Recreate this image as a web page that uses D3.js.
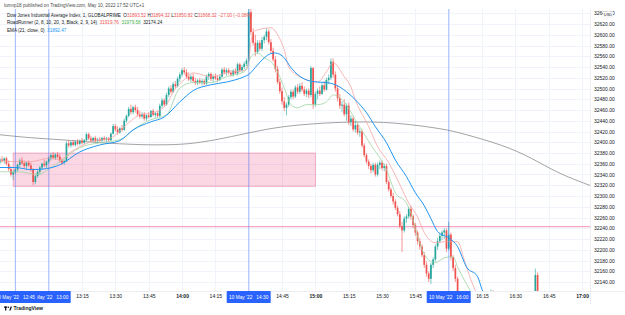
<!DOCTYPE html>
<meta charset="UTF-8">
<style>
    body { margin: 0; background: #fff; }
    svg { display: block; font-family: "Liberation Sans", Arial, sans-serif; }
    .axis path, .axis line { display: none; }
    .axis text { fill: #131722; font-size: 5px; }
    .legend { font-size: 4.6px; fill: #131722; white-space: pre; }
</style>
<body>
<div id="chart"></div>
<script src="https://d3js.org/d3.v7.min.js"></script>
<script>

// 1-minute candles, one row per minute starting at candleStart: [open, high, low, close]
var candleStart = "12:38";
var ohlc = [
    [32362,32372,32358,32368],[32368,32374,32362,32365],[32365,32372,32360,32370],[32370,32373,32357,32360],
    [32360,32366,32346,32350],[32350,32356,32336,32340],[32340,32348,32330,32344],[32344,32352,32340,32349],
    [32349,32360,32346,32358],[32358,32370,32354,32366],[32366,32372,32358,32361],[32361,32366,32352,32356],
    [32356,32364,32350,32362],[32362,32366,32354,32357],[32357,32362,32345,32350],[32350,32352,32320,32326],
    [32326,32340,32322,32337],[32337,32348,32334,32345],[32345,32356,32340,32353],[32353,32362,32348,32360],
    [32360,32368,32354,32357],[32357,32366,32352,32364],[32364,32374,32360,32370],[32370,32380,32366,32376],
    [32376,32382,32368,32371],[32371,32380,32367,32377],[32377,32382,32370,32373],[32373,32378,32362,32366],
    [32366,32370,32358,32362],[32362,32368,32358,32365],[32365,32402,32363,32398],[32398,32404,32390,32394],
    [32394,32402,32390,32400],[32400,32404,32392,32395],[32395,32403,32392,32401],[32401,32406,32394,32397],
    [32397,32405,32394,32403],[32403,32408,32396,32399],[32399,32406,32396,32404],[32404,32418,32402,32415],
    [32415,32418,32404,32407],[32407,32412,32400,32403],[32403,32410,32400,32408],[32408,32412,32400,32402],
    [32402,32408,32398,32405],[32405,32410,32400,32403],[32403,32410,32398,32408],[32408,32412,32402,32405],
    [32405,32410,32400,32407],[32407,32410,32401,32404],[32404,32418,32402,32416],[32416,32434,32414,32430],
    [32430,32434,32420,32424],[32424,32430,32414,32418],[32418,32428,32416,32426],[32426,32432,32420,32423],
    [32423,32444,32421,32440],[32440,32452,32436,32449],[32449,32466,32446,32462],[32462,32470,32452,32456],
    [32456,32468,32452,32465],[32465,32470,32455,32460],[32460,32466,32448,32452],[32452,32458,32444,32448],
    [32448,32456,32444,32452],[32452,32456,32440,32444],[32444,32452,32440,32450],[32450,32456,32444,32447],
    [32447,32460,32445,32458],[32458,32462,32448,32451],[32451,32456,32446,32454],[32454,32458,32446,32449],
    [32449,32472,32447,32468],[32468,32482,32464,32478],[32478,32482,32466,32470],[32470,32492,32468,32488],
    [32488,32504,32484,32500],[32500,32506,32490,32494],[32494,32512,32492,32508],[32508,32514,32500,32504],
    [32504,32522,32502,32518],[32518,32530,32512,32526],[32526,32538,32522,32534],[32534,32540,32526,32530],
    [32530,32536,32518,32522],[32522,32530,32514,32517],[32517,32526,32512,32522],[32522,32528,32510,32514],
    [32514,32520,32506,32510],[32510,32518,32506,32515],[32515,32520,32508,32511],[32511,32518,32506,32514],
    [32514,32518,32506,32509],[32509,32526,32507,32522],[32522,32530,32516,32527],[32527,32530,32514,32518],
    [32518,32526,32512,32523],[32523,32528,32516,32519],[32519,32524,32512,32516],[32516,32526,32514,32522],
    [32522,32538,32520,32535],[32535,32540,32526,32530],[32530,32538,32524,32534],[32534,32538,32526,32529],
    [32529,32534,32522,32526],[32526,32536,32522,32533],[32533,32538,32526,32528],[32528,32548,32524,32545],
    [32545,32548,32530,32534],[32534,32544,32530,32540],[32540,32550,32536,32546],[32546,32556,32542,32552],
    [32552,32650,32548,32642],[32642,32648,32600,32605],[32605,32612,32580,32585],[32585,32600,32560,32568],
    [32568,32590,32564,32585],[32585,32590,32570,32574],[32574,32596,32570,32590],[32590,32600,32584,32596],
    [32596,32612,32590,32606],[32606,32610,32582,32586],[32586,32592,32566,32570],[32570,32576,32550,32554],
    [32554,32560,32530,32536],[32536,32542,32508,32512],[32512,32518,32490,32495],[32495,32502,32470,32476],
    [32476,32484,32458,32464],[32464,32474,32450,32470],[32470,32488,32466,32484],[32484,32498,32480,32494],
    [32494,32498,32480,32485],[32485,32506,32482,32502],[32502,32508,32490,32494],[32494,32510,32490,32505],
    [32505,32512,32494,32498],[32498,32504,32486,32490],[32490,32500,32484,32496],[32496,32500,32482,32488],
    [32488,32542,32484,32538],[32538,32540,32462,32470],[32470,32494,32466,32490],[32490,32500,32480,32496],
    [32496,32504,32486,32490],[32490,32510,32488,32506],[32506,32514,32494,32498],[32498,32520,32496,32516],
    [32516,32526,32508,32520],[32520,32556,32516,32550],[32550,32556,32520,32526],[32526,32532,32494,32500],
    [32500,32506,32476,32482],[32482,32490,32462,32468],[32468,32476,32456,32470],[32470,32480,32448,32452],
    [32452,32472,32440,32468],[32468,32474,32432,32438],[32438,32450,32430,32444],[32444,32448,32420,32424],
    [32424,32440,32418,32432],[32432,32436,32414,32418],[32418,32426,32410,32420],[32420,32424,32390,32394],
    [32394,32398,32372,32376],[32376,32380,32360,32364],[32364,32368,32350,32356],[32356,32360,32342,32348],
    [32348,32362,32344,32358],[32358,32362,32336,32340],[32340,32362,32336,32358],[32358,32366,32350,32362],
    [32362,32366,32348,32352],[32352,32360,32346,32356],[32356,32360,32322,32326],[32326,32330,32308,32312],
    [32312,32316,32296,32300],[32300,32306,32284,32290],[32290,32294,32274,32278],[32278,32282,32262,32266],
    [32266,32272,32240,32244],[32244,32252,32196,32236],[32236,32262,32232,32258],[32258,32266,32250,32262],
    [32262,32280,32258,32276],[32276,32282,32256,32262],[32262,32266,32240,32246],[32246,32250,32226,32232],
    [32232,32236,32210,32216],[32216,32222,32200,32206],[32206,32210,32186,32190],[32190,32196,32166,32172],
    [32172,32178,32150,32156],[32156,32160,32140,32146],[32146,32176,32136,32172],[32172,32186,32166,32182],
    [32182,32210,32178,32206],[32206,32222,32200,32216],[32216,32230,32212,32226],[32226,32236,32218,32232],
    [32232,32240,32220,32236],[32236,32240,32196,32202],[32202,32252,32198,32228],[32228,32232,32180,32186],
    [32186,32190,32160,32166],[32166,32172,32140,32146],[32146,32150,32110,32114],[32114,32118,32080,32086],
    [32086,32096,32052,32060],[32060,32088,32050,32080],[32080,32098,32064,32072],[32072,32090,32060,32084],
    [32084,32100,32070,32078],[32078,32094,32058,32066],[32066,32088,32056,32082],[32082,32110,32076,32104],
    [32104,32118,32090,32096],[32096,32106,32080,32088],[32088,32100,32074,32092],[32092,32108,32084,32100],
    [32100,32112,32090,32094],[32094,32126,32090,32104],[32104,32125,32088,32092]
];

// a few later candles
var lateTimes = ["16:38", "16:39", "16:40"];
var lateOhlc = [[32080,32110,32070,32100],[32100,32165,32096,32153],[32153,32158,32090,32100]];

// indicator lines: [minutes after 12:38, price]
var emaLine = [[0,32353],[7,32353],[14,32349],[21,32351],[27,32358],[36,32382],[45,32395],[54,32403],[60,32423],
    [68,32438],[74,32447],[81,32475],[87,32496],[95,32507],[102,32512],[110,32522],[112,32526],[116,32544],
    [119,32557],[122,32565],[124,32566],[128,32557],[131,32539],[134,32526],[138,32516],[143,32512],[147,32511],
    [151,32507],[156,32494],[160,32479],[165,32455],[169,32429],[174,32399],[178,32367],[183,32336],[187,32306],
    [191,32282],[194,32258],[197,32234],[202,32222],[206,32206],[210,32168],[215,32150],[217,32126],[221,32098]];
var redLine = [[0,32367],[5,32364],[14,32364],[23,32371],[27,32367],[32,32382],[41,32401],[50,32408],[56,32429],
    [63,32451],[69,32455],[75,32470],[78,32494],[83,32516],[87,32529],[95,32522],[102,32529],[111,32535],
    [114,32605],[116,32609],[122,32613],[125,32600],[128,32572],[130,32540],[135,32522],[143,32512],[147,32531],
    [150,32548],[155,32522],[158,32503],[160,32479],[166,32429],[170,32392],[175,32362],[179,32330],[184,32287],
    [188,32261],[191,32232],[196,32213],[200,32215],[206,32215],[209,32181],[212,32144],[216,32107]];
var greenLine = [[0,32345],[9,32345],[17,32340],[23,32353],[27,32364],[36,32390],[45,32399],[54,32405],[62,32429],
    [68,32442],[75,32451],[81,32501],[87,32511],[95,32511],[102,32522],[110,32531],[113,32559],[116,32566],
    [119,32557],[122,32550],[125,32531],[128,32501],[131,32470],[134,32464],[138,32470],[143,32470],[147,32475],
    [150,32488],[155,32475],[160,32442],[167,32395],[174,32349],[178,32306],[183,32287],[186,32256],[188,32224],
    [193,32181],[196,32176],[200,32185],[204,32187],[206,32168],[209,32144],[214,32107]];
var grayLine = [[0,32414],[14,32408],[27,32405],[45,32399],[63,32395],[79,32395],[90,32399],[104,32410],
    [120,32425],[135,32433],[155,32438],[173,32438],[189,32431],[202,32423],[212,32412],[230,32390],
    [243,32362],[252,32341],[266,32319]];

// drawings
var zone = {from: "12:44", to: "15:00", top: 32380, bottom: 32318};
var hLinePrice = 32243;
var markTimes = ["12:45", "13:00", "14:30", "16:00"];

var priceTicks = [32140,32160,32180,32200,32220,32240,32260,32280,32300,32320,32340,32360,32380,
    32400,32420,32440,32460,32480,32500,32520,32540,32560,32580,32600,32620,32640];
var timeTicks = ["12:45","13:00","13:15","13:30","13:45","14:00","14:15","14:30","14:45","15:00",
    "15:15","15:30","15:45","16:00","16:15","16:30","16:45","17:00"];

var headerText = "lumnp18 published on TradingView.com, May 10, 2022 17:52 UTC+1";

// ---------------------------------------------------------------
var W = 625, H = 315;
var pane = {left: 0, right: 590, top: 9, bottom: 291};

var parseTime = d3.timeParse("%Y-%m-%d %H:%M");
function t(s) { return parseTime("2022-05-10 " + s); }
var t0 = t(candleStart);
function tm(m) { return d3.timeMinute.offset(t0, m); }

var x = d3.scaleTime()
    .domain([t("12:38"), t("17:03")])
    .range([-0.2, 588.7]);
var y = d3.scaleLinear().domain([32140, 32620]).range([282, 24]);

var svg = d3.select("#chart").append("svg")
    .attr("width", W).attr("height", H);

svg.append("rect").attr("width", W).attr("height", H).attr("fill", "#fff");

svg.append("clipPath").attr("id", "clip")
    .append("rect")
    .attr("x", pane.left).attr("y", pane.top)
    .attr("width", pane.right - pane.left).attr("height", pane.bottom - pane.top);

var g = svg.append("g").attr("clip-path", "url(#clip)");

// grid
g.selectAll(".hgrid").data(priceTicks).enter().append("line")
    .attr("x1", pane.left).attr("x2", pane.right)
    .attr("y1", function(d) { return Math.round(y(d)) + 0.5; })
    .attr("y2", function(d) { return Math.round(y(d)) + 0.5; })
    .attr("stroke", "#f0f3fa");
g.selectAll(".vgrid").data(timeTicks).enter().append("line")
    .attr("y1", pane.top).attr("y2", pane.bottom)
    .attr("x1", function(d) { return Math.round(x(t(d))) + 0.5; })
    .attr("x2", function(d) { return Math.round(x(t(d))) + 0.5; })
    .attr("stroke", "#f0f3fa");

// zone rectangle
g.append("rect")
    .attr("x", x(t(zone.from))).attr("y", y(zone.top))
    .attr("width", x(t(zone.to)) - x(t(zone.from)))
    .attr("height", y(zone.bottom) - y(zone.top))
    .attr("fill", "rgba(233, 30, 99, 0.18)")
    .attr("stroke", "rgba(233, 30, 99, 0.35)").attr("stroke-width", 0.8);

// horizontal line
g.append("line")
    .attr("x1", pane.left).attr("x2", pane.right)
    .attr("y1", y(hLinePrice)).attr("y2", y(hLinePrice))
    .attr("stroke", "rgba(233, 30, 99, 0.4)").attr("stroke-width", 1.3);

// gray long average
var lineGen = function(curve) {
    return d3.line()
        .x(function(d) { return x(tm(d[0])); })
        .y(function(d) { return y(d[1]); })
        .curve(curve);
};
g.append("path").datum(grayLine)
    .attr("d", lineGen(d3.curveBasis))
    .attr("fill", "none").attr("stroke", "#8c8c8c").attr("stroke-width", 0.8);

// candles
var candles = ohlc.map(function(r, i) { return {t: tm(i), o: r[0], h: r[1], l: r[2], c: r[3]}; })
    .concat(lateOhlc.map(function(r, i) { return {t: t(lateTimes[i]), o: r[0], h: r[1], l: r[2], c: r[3]}; }));

var upCol = "#26a69a", downCol = "#ef5350";
var cg = g.append("g");
cg.selectAll(".wick").data(candles).enter().append("line")
    .attr("x1", function(d) { return x(d.t); })
    .attr("x2", function(d) { return x(d.t); })
    .attr("y1", function(d) { return y(d.h); })
    .attr("y2", function(d) { return y(d.l); })
    .attr("stroke", function(d) { return d.c >= d.o ? upCol : downCol; })
    .attr("stroke-width", 0.6);
cg.selectAll(".body").data(candles).enter().append("rect")
    .attr("x", function(d) { return x(d.t) - 0.85; })
    .attr("width", 1.7)
    .attr("y", function(d) { return y(Math.max(d.o, d.c)); })
    .attr("height", function(d) { return Math.max(0.6, Math.abs(y(d.o) - y(d.c))); })
    .attr("fill", function(d) { return d.c >= d.o ? upCol : downCol; });

// indicator lines
g.append("path").datum(redLine)
    .attr("d", lineGen(d3.curveMonotoneX))
    .attr("fill", "none").attr("stroke", "#f5a3a3").attr("stroke-width", 0.8);
g.append("path").datum(greenLine)
    .attr("d", lineGen(d3.curveMonotoneX))
    .attr("fill", "none").attr("stroke", "#9fd4a2").attr("stroke-width", 0.8);
g.append("path").datum(emaLine)
    .attr("d", lineGen(d3.curveMonotoneX))
    .attr("fill", "none").attr("stroke", "#2196f3").attr("stroke-width", 1);

// vertical marker lines
g.selectAll(".mark").data(markTimes).enter().append("line")
    .attr("x1", function(d) { return x(t(d)); })
    .attr("x2", function(d) { return x(t(d)); })
    .attr("y1", pane.top).attr("y2", pane.bottom)
    .attr("stroke", "rgba(41, 98, 255, 0.45)").attr("stroke-width", 0.9);

// pane borders
svg.append("line").attr("x1", pane.right + 0.5).attr("x2", pane.right + 0.5)
    .attr("y1", pane.top).attr("y2", pane.bottom + 13).attr("stroke", "#e0e3eb").attr("stroke-width", 0.6);
svg.append("line").attr("x1", 0).attr("x2", W)
    .attr("y1", pane.bottom + 0.5).attr("y2", pane.bottom + 0.5).attr("stroke", "#e0e3eb").attr("stroke-width", 0.6);

// price axis
svg.append("g").attr("class", "axis")
    .attr("transform", "translate(" + (pane.right + 3) + ",0)")
    .call(d3.axisRight(y).tickValues(priceTicks).tickSize(0).tickPadding(1).tickFormat(d3.format(".2f")));

// USD badge
svg.append("rect").attr("x", 603).attr("y", 11.5).attr("width", 10).attr("height", 5.5)
    .attr("fill", "#fff").attr("stroke", "#d1d4dc").attr("stroke-width", 0.4).attr("rx", 0.8);
svg.append("text").attr("x", 608).attr("y", 15.6).attr("text-anchor", "middle")
    .attr("font-size", 4).attr("fill", "#131722").text("USD");

// time axis (ticks under the marker labels are covered, so skip their text)
var labelTicks = timeTicks.filter(function(s) { return markTimes.indexOf(s) < 0; });
var tAxis = svg.append("g").attr("class", "axis")
    .attr("transform", "translate(0," + (pane.bottom + 2) + ")")
    .call(d3.axisBottom(x).tickValues(labelTicks.map(t)).tickSize(0).tickPadding(1)
        .tickFormat(d3.timeFormat("%H:%M")));
tAxis.selectAll("text")
    .attr("font-weight", function(d) { return d.getMinutes() === 0 ? "bold" : null; });

// marker labels (drawn right-to-left so the earliest sits on top)
markTimes.slice().reverse().forEach(function(s) {
    var cx = x(t(s));
    var lg = svg.append("g");
    lg.append("rect").attr("x", cx - 22).attr("y", pane.bottom).attr("width", 44).attr("height", 12)
        .attr("fill", "#2962ff").attr("rx", 0.8);
    lg.append("text").attr("x", cx).attr("y", pane.bottom + 7.6).attr("text-anchor", "middle")
        .attr("font-size", 4.8).attr("fill", "#fff").style("white-space", "pre")
        .text("10 May '22   " + s);
});

// header + legend
svg.append("text").attr("class", "legend").attr("x", 4).attr("y", 6.5)
    .style("fill", "#4a4a4a").text(headerText);

var leg1 = svg.append("text").attr("class", "legend").attr("x", 7).attr("y", 16.6);
leg1.append("tspan").text("Dow Jones Industrial Average Index, 1, GLOBALPRIME  ");
[["O", "31893.52"], ["H", "31894.32"], ["L", "31850.82"], ["C", "31868.32"]].forEach(function(p) {
    leg1.append("tspan").text(p[0]);
    leg1.append("tspan").style("fill", downCol).text(p[1] + " ");
});
leg1.append("tspan").style("fill", downCol).text("\u221227.00 (\u22120.08%)");

var leg2 = svg.append("text").attr("class", "legend").attr("x", 7).attr("y", 24.2);
leg2.append("tspan").text("RoadRunner (2, 8, 10, 20, 3, Black, 2, 9, 14)  ");
leg2.append("tspan").style("fill", downCol).text("31919.76  ");
leg2.append("tspan").style("fill", "#4caf50").text("31979.58  ");
leg2.append("tspan").style("fill", "#131722").text("32174.24");

var leg3 = svg.append("text").attr("class", "legend").attr("x", 7).attr("y", 31.8);
leg3.append("tspan").text("EMA (21, close, 0)  ");
leg3.append("tspan").style("fill", "#2196f3").text("31892.47");

// TradingView mark
var logo = svg.append("g").attr("transform", "translate(4,306)");
logo.append("rect").attr("x", 0).attr("y", 0.5).attr("width", 3.2).attr("height", 1.3).attr("fill", "#131722");
logo.append("rect").attr("x", 1).attr("y", 0.5).attr("width", 1.3).attr("height", 4).attr("fill", "#131722");
logo.append("circle").attr("cx", 4.4).attr("cy", 1.2).attr("r", 0.8).attr("fill", "#131722");
logo.append("path").attr("d", "M5.2,4.5 L6.6,0.5 L8,0.5 L6.6,4.5 Z").attr("fill", "#131722");
logo.append("text").attr("x", 9.5).attr("y", 4.3).attr("font-size", 5).attr("font-weight", "bold")
    .attr("fill", "#131722").text("TradingView");

</script>
</body>
